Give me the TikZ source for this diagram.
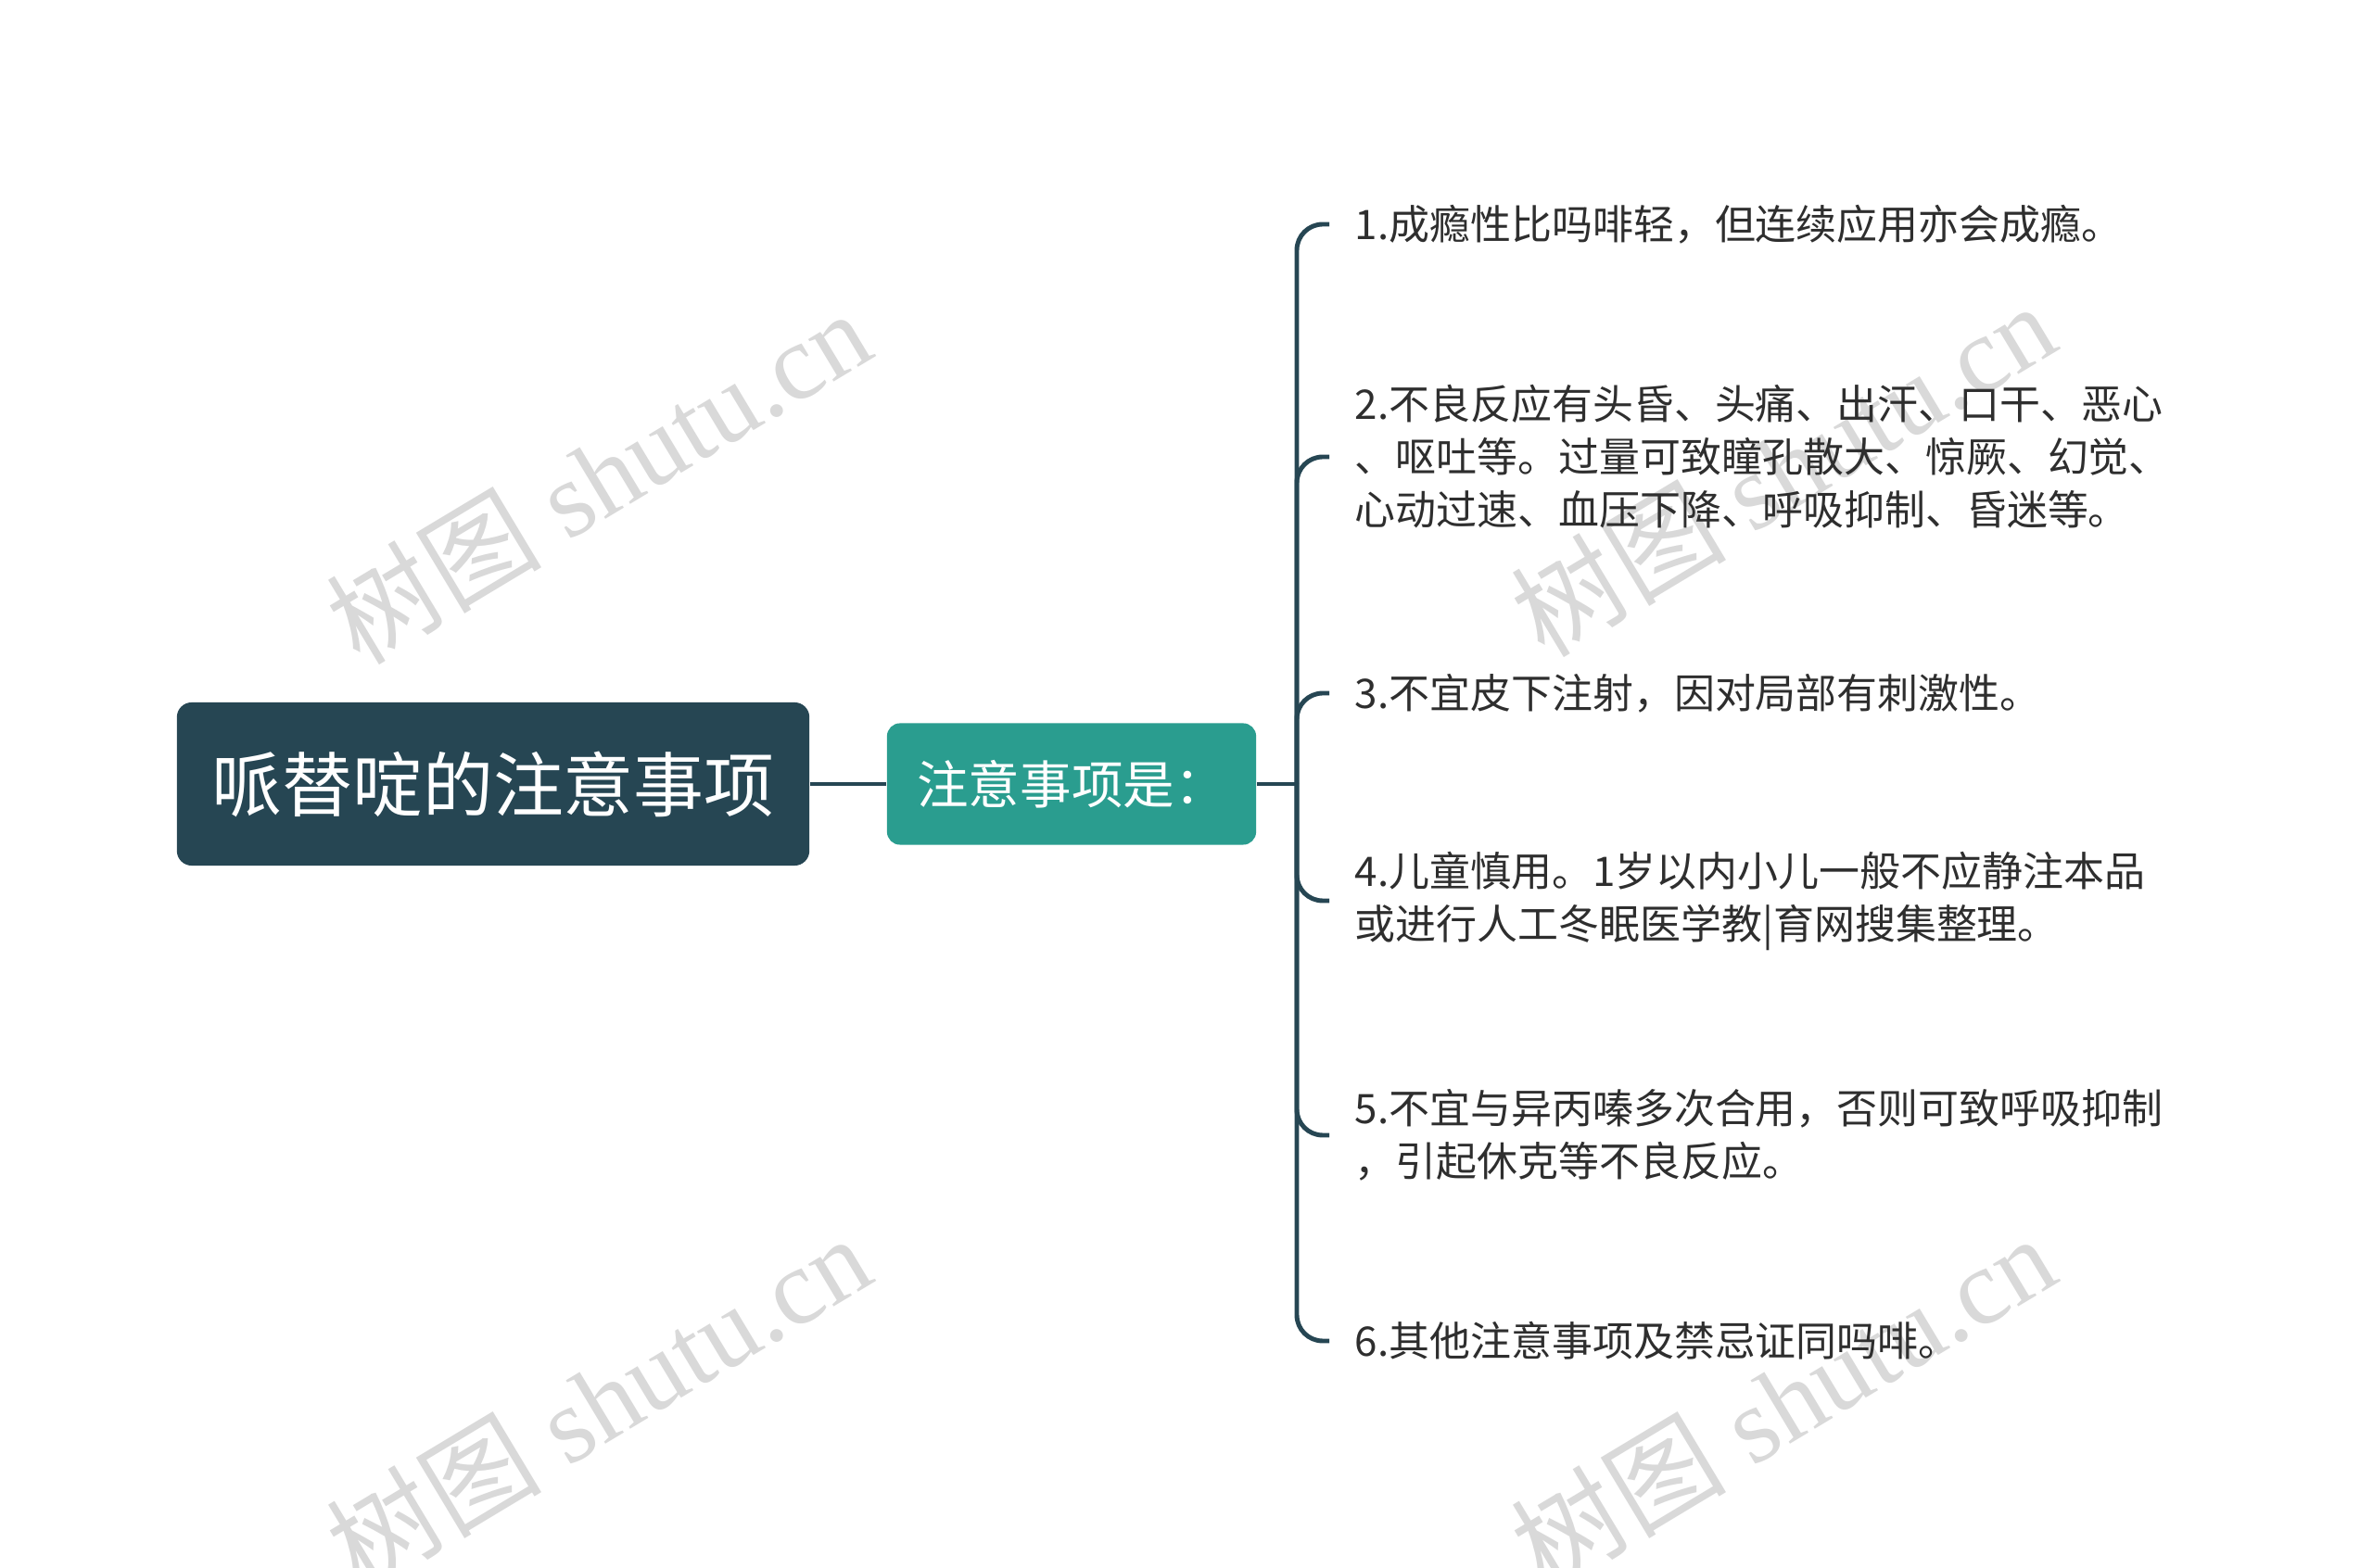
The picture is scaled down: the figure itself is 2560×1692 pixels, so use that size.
\documentclass[tikz,border=0pt]{standalone}
\usepackage{fontspec}
\setmainfont{Noto Sans CJK SC}
\newfontfamily\cjkwm{Noto Sans CJK SC}
\newfontfamily\wmserif{Liberation Serif}
\definecolor{rootc}{HTML}{264653}
\definecolor{midc}{HTML}{2A9D8F}
\definecolor{txtc}{HTML}{2E2E2E}
\definecolor{wmc}{HTML}{D9D9D9}
\tikzset{
  rootbox/.style={draw=none, fill=rootc, rounded corners=0.16cm, minimum width=6.82cm, minimum height=1.76cm, inner sep=0pt, text=white, font=\fontsize{21.6}{26}\selectfont},
  midbox/.style={draw=none, fill=midc, rounded corners=0.14cm, minimum width=3.98cm, minimum height=1.31cm, inner sep=0pt, text=white, font=\fontsize{15.8}{19}\selectfont},
  leaf/.style={anchor=west, inner xsep=0.27cm, inner ysep=2pt, align=left, text=txtc, font=\fontsize{12.5}{16.2}\selectfont},
  conn/.style={draw=rootc, line width=1.4pt},
  branch/.style={conn, rounded corners=0.28cm},
  wmark/.style={text=wmc, rotate=31, font=\fontsize{33}{38}\selectfont\wmserif}
}
\begin{document}
\begin{tikzpicture}[x=0.01cm, y=-0.01cm]
\fill[white] (0,0) rectangle (2560,1692);
\useasboundingbox (0,0) rectangle (2560,1692);

% watermarks
\node[wmark] (wm1) at (645,514) {{\cjkwm 树图} shutu.cn};
\node[wmark] (wm2) at (1923,506) {{\cjkwm 树图} shutu.cn};
\node[wmark] (wm3) at (645,1512) {{\cjkwm 树图} shutu.cn};
\node[wmark] (wm4) at (1923,1512) {{\cjkwm 树图} shutu.cn};

\node[rootbox] (root) at (532,846) {哌替啶的注意事项};
\node[midbox] (mid) at (1156,846) {注意事项是：};

\coordinate (junc) at (1399,846);

\node[leaf] (c1) at (1434,242) {1.成瘾性比吗啡轻，但连续应用亦会成瘾。};
\node[leaf] (c2) at (1434,493) {2.不良反应有头昏、头痛、出汗、口干、恶心\\、呕吐等。过量可致瞳孔散大、惊厥、幻觉、\\心动过速、血压下降、呼吸抑制、昏迷等。};
\node[leaf] (c3) at (1434,748) {3.不宜皮下注射，因对局部有刺激性。};
\node[leaf] (c4) at (1434,972) {4.儿童慎用。1岁以内小儿一般不应静注本品\\或进行人工冬眠医学教|育网搜集整理。};
\node[leaf] (c5) at (1434,1225) {5.不宜与异丙嗪多次合用，否则可致呼吸抑制\\，引起休克等不良反应。};
\node[leaf] (c6) at (1434,1447) {6.其他注意事项及禁忌证同吗啡。};

\draw[conn] (root.east) -- (mid.west);
\draw[conn] (mid.east) -- (junc);
\foreach \c in {c1,c2,c3,c4,c5,c6}{
  \draw[branch] (junc) -- (junc |- \c.west) -- (\c.west);
}
\end{tikzpicture}
\end{document}
